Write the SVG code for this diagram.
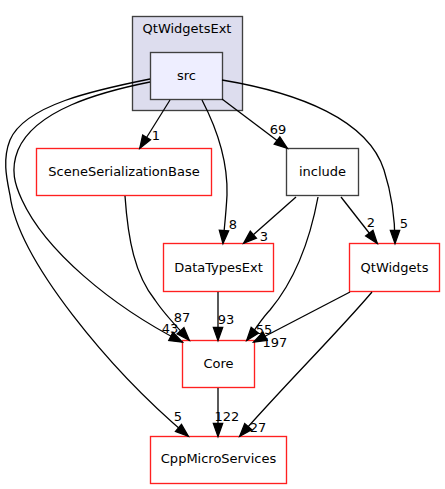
<svg xmlns="http://www.w3.org/2000/svg" width="445" height="489" viewBox="0 0 445 489">
<style>
text{font-family:"DejaVu Sans","Liberation Sans",sans-serif;font-size:13px;fill:#000;text-anchor:middle}
.red{fill:#ffffff;stroke:#ff2020;stroke-width:1.35}
.gray{fill:#ffffff;stroke:#404040;stroke-width:1.35}
.e{fill:none;stroke:#000;stroke-width:1.3;marker-end:url(#arr)}
</style>
<defs>
<marker id="arr" markerWidth="14" markerHeight="10" refX="12.5" refY="4.65" orient="auto" markerUnits="userSpaceOnUse" overflow="visible">
<path d="M0,0 L13,4.65 L0,9.3 z" fill="#000" stroke="#000" stroke-width="1.3"/>
</marker>
</defs>
<rect width="445" height="489" fill="#fff"/>
<g id="cluster_QtWidgetsExt">
<rect x="132.5" y="16.5" width="110" height="94" fill="#ddddee" stroke="#404040" stroke-width="1.35"/>
<text x="187" y="32.5">QtWidgetsExt</text>
</g>
<g id="node_src">
<rect x="150.5" y="52.5" width="72" height="47" fill="#eeeeff" stroke="#404040" stroke-width="1.35"/>
<text x="186.5" y="80">src</text>
</g>
<g id="node_SceneSerializationBase">
<rect class="red" x="36.5" y="148.5" width="175" height="47"/>
<text x="124" y="176">SceneSerializationBase</text>
</g>
<g id="node_include">
<rect class="gray" x="286.5" y="148.5" width="72" height="47"/>
<text x="322.5" y="176">include</text>
</g>
<g id="node_DataTypesExt">
<rect class="red" x="163.5" y="243.5" width="110" height="48"/>
<text x="218.5" y="271.5">DataTypesExt</text>
</g>
<g id="node_QtWidgets">
<rect class="red" x="349.5" y="243.5" width="90" height="48"/>
<text x="394.5" y="271.5">QtWidgets</text>
</g>
<g id="node_Core">
<rect class="red" x="182.5" y="340.5" width="72" height="47"/>
<text x="218.5" y="367.5">Core</text>
</g>
<g id="node_CppMicroServices">
<rect class="red" x="150.5" y="436.5" width="136" height="47"/>
<text x="218.5" y="462.5">CppMicroServices</text>
</g>
<g id="edges">
<path class="e" d="M170,100 L140,148"/>
<text x="156" y="140">1</text>
<path class="e" d="M222,99 L287,148"/>
<text x="278" y="134">69</text>
<path class="e" d="M202,100 C215,125 228,160 227,195 C226,215 224,230 223,243"/>
<text x="233" y="229">8</text>
<path class="e" d="M222,80 C300,93 368,120 384,170 C392,195 395,220 395,243"/>
<text x="404" y="228">5</text>
<path class="e" d="M150,82 C100,92 35,110 18,150 C10,170 15,185 22,200 C45,250 110,305 182,342"/>
<text x="170" y="333">43</text>
<path class="e" d="M150,79 C95,90 25,105 10,140 C2,160 7,180 10,195 C18,260 110,370 188,436"/>
<text x="178" y="421">5</text>
<path class="e" d="M125,196 C128,240 135,275 155,300 C165,315 178,328 189,340"/>
<text x="182" y="322">87</text>
<path class="e" d="M296,197 L244,243"/>
<text x="264" y="241">3</text>
<path class="e" d="M318,197 C310,240 295,280 270,310 C262,318 255,330 247,340"/>
<text x="264" y="334">55</text>
<path class="e" d="M350,292 L254,342"/>
<text x="275" y="347">197</text>
<path class="e" d="M341,197 L377,243"/>
<text x="371" y="227">2</text>
<path class="e" d="M218,292 L218,340"/>
<text x="226" y="324">93</text>
<path class="e" d="M372,292 C340,330 280,390 240,436"/>
<text x="258" y="432">27</text>
<path class="e" d="M218,388 L218,436"/>
<text x="227" y="421">122</text>
</g>
</svg>
